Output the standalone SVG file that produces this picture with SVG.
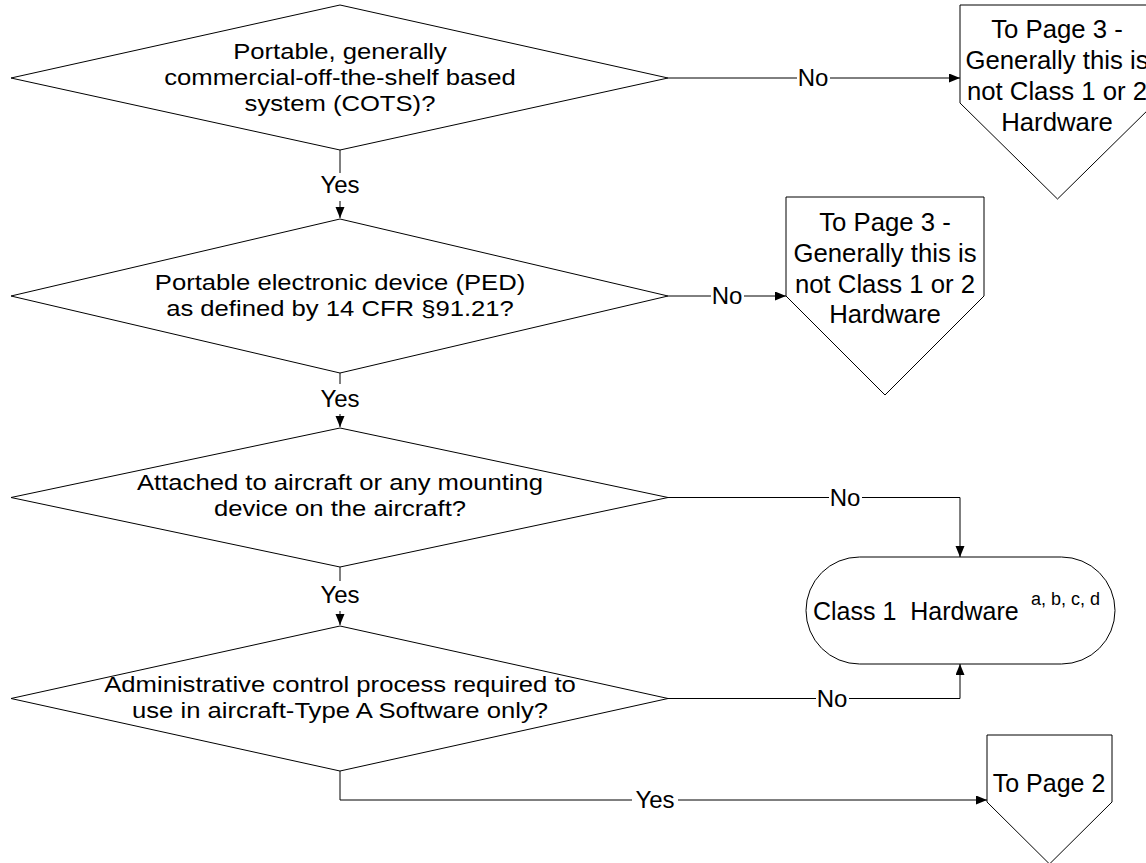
<svg xmlns="http://www.w3.org/2000/svg" width="1146" height="863" viewBox="0 0 1146 863">
<style>
.shape{fill:#fff;stroke:#000;stroke-width:1}
.t{font-family:"Liberation Sans",Arial,sans-serif;font-size:25px;fill:#000;text-anchor:middle}
.dt{font-family:"Liberation Sans",Arial,sans-serif;font-size:22.5px;fill:#000;text-anchor:middle}
.lbl{font-family:"Liberation Sans",Arial,sans-serif;font-size:24px;fill:#000;text-anchor:middle}
.conn{fill:none;stroke:#000;stroke-width:1}
.bg{fill:#fff}
</style>
<defs>
<marker id="arr" markerUnits="userSpaceOnUse" markerWidth="12" markerHeight="10" refX="11" refY="4.5" orient="auto">
<path d="M0,0 L11,4.5 L0,9 z" fill="#000"/>
</marker>
</defs>
<rect width="1146" height="863" fill="#fff"/>

<g id="connectors">
<path class="conn" d="M340,150 V218" marker-end="url(#arr)"/>
<path class="conn" d="M668,78 H960" marker-end="url(#arr)"/>
<path class="conn" d="M340,373 V427" marker-end="url(#arr)"/>
<path class="conn" d="M668,296 H786" marker-end="url(#arr)"/>
<path class="conn" d="M340,567 V625" marker-end="url(#arr)"/>
<path class="conn" d="M668,497.5 H960 V557" marker-end="url(#arr)"/>
<path class="conn" d="M668,698.5 H960 V664" marker-end="url(#arr)"/>
<path class="conn" d="M340,771 V800 H987" marker-end="url(#arr)"/>

<rect class="bg" x="316" y="173" width="48" height="28"/>
<text class="lbl" x="340" y="193">Yes</text>
<rect class="bg" x="316" y="384" width="48" height="30"/>
<text class="lbl" x="340" y="407">Yes</text>
<rect class="bg" x="316" y="581" width="48" height="30"/>
<text class="lbl" x="340" y="603">Yes</text>
<rect class="bg" x="632" y="787" width="46" height="26"/>
<text class="lbl" x="655" y="808">Yes</text>

<rect class="bg" x="797" y="66" width="33" height="22"/>
<text class="lbl" x="813" y="86">No</text>
<rect class="bg" x="711" y="284" width="33" height="22"/>
<text class="lbl" x="727" y="304">No</text>
<rect class="bg" x="829" y="486" width="33" height="22"/>
<text class="lbl" x="845" y="506">No</text>
<rect class="bg" x="816" y="688" width="33" height="22"/>
<text class="lbl" x="832" y="707">No</text>
</g>

<g id="d1">
<polygon class="shape" points="11,78 340,5 668,78 340,150"/>
<text class="dt" transform="translate(340 59) scale(1.14 1)">Portable, generally</text>
<text class="dt" transform="translate(340 85) scale(1.14 1)">commercial-off-the-shelf based</text>
<text class="dt" transform="translate(340 110.5) scale(1.14 1)">system (COTS)?</text>
</g>

<g id="p1">
<polygon class="shape" points="960,5 1155,5 1155,103 1057.5,199 960,103"/>
<text class="t" transform="translate(1057 38) scale(1.03 1)">To Page 3 -</text>
<text class="t" transform="translate(1057 69) scale(1.03 1)">Generally this is</text>
<text class="t" transform="translate(1057 100) scale(1.03 1)">not Class 1 or 2</text>
<text class="t" transform="translate(1057 131) scale(1.03 1)">Hardware</text>
</g>

<g id="d2">
<polygon class="shape" points="11,296 340,219 668,296 340,373"/>
<text class="dt" transform="translate(340 290) scale(1.14 1)">Portable electronic device (PED)</text>
<text class="dt" transform="translate(340 315.5) scale(1.14 1)">as defined by 14 CFR §91.21?</text>
</g>

<g id="p2">
<polygon class="shape" points="786,197 984,197 984,296 885,395 786,296"/>
<text class="t" transform="translate(885 231) scale(1.03 1)">To Page 3 -</text>
<text class="t" transform="translate(885 262) scale(1.03 1)">Generally this is</text>
<text class="t" transform="translate(885 292.5) scale(1.03 1)">not Class 1 or 2</text>
<text class="t" transform="translate(885 323) scale(1.03 1)">Hardware</text>
</g>

<g id="d3">
<polygon class="shape" points="11,497.5 340,428 668,497.5 340,567"/>
<text class="dt" transform="translate(340 490) scale(1.14 1)">Attached to aircraft or any mounting</text>
<text class="dt" transform="translate(340 515.5) scale(1.14 1)">device on the aircraft?</text>
</g>

<g id="class1">
<rect class="shape" x="806" y="557" width="309" height="107" rx="53.5" ry="53.5"/>
<text class="t" x="813" y="620" style="text-anchor:start" xml:space="preserve">Class 1  Hardware</text>
<text x="1031" y="605" style="font-family:'Liberation Sans',Arial,sans-serif;font-size:18px;fill:#000">a, b, c, d</text>
</g>

<g id="d4">
<polygon class="shape" points="11,698.5 340,626 668,698.5 340,771"/>
<text class="dt" transform="translate(340 692) scale(1.14 1)">Administrative control process required to</text>
<text class="dt" transform="translate(340 717.5) scale(1.14 1)">use in aircraft-Type A Software only?</text>
</g>

<g id="p3">
<polygon class="shape" points="987,735 1112,735 1112,802 1049.5,864 987,802"/>
<text class="t" x="1049" y="792">To Page 2</text>
</g>
</svg>
